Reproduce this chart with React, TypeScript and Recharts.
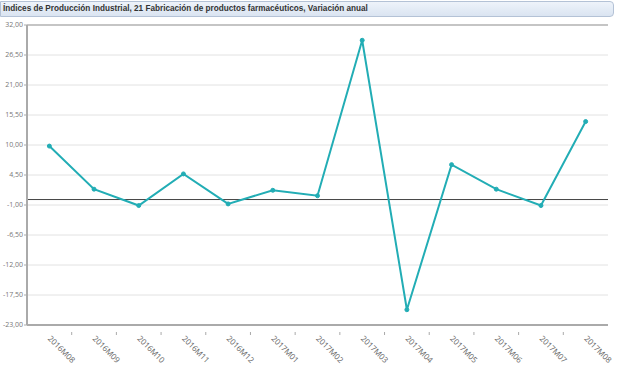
import React from "react";
import {
  LineChart,
  Line,
  XAxis,
  YAxis,
  CartesianGrid,
  ReferenceLine,
} from "recharts";

const TITLE =
  "Índices de Producción Industrial, 21 Fabricación de productos farmacéuticos, Variación anual";

const months = [
  "2016M08",
  "2016M09",
  "2016M10",
  "2016M11",
  "2016M12",
  "2017M01",
  "2017M02",
  "2017M03",
  "2017M04",
  "2017M05",
  "2017M06",
  "2017M07",
  "2017M08",
];

const variation = [9.8, 1.9, -1.1, 4.7, -0.8, 1.7, 0.7, 29.2, -20.2, 6.4, 1.9, -1.1, 14.3];

const yTicks = [-23, -17.5, -12, -6.5, -1, 4.5, 10, 15.5, 21, 26.5, 32];

const data = months.map((m, i) => ({ month: m, value: variation[i] }));

const WIDTH = 620;
const HEIGHT = 368;
const LEFT = 27;
const RIGHT = 12;
const PLOT_W = WIDTH - LEFT - RIGHT;
const HALF_STEP = PLOT_W / months.length / 2;

const LINE_COLOR = "#22adb5";

// x labels rotated 45°, tick marks sit between categories
const MonthTick = (props: any) => {
  const { x, y, payload, index } = props;
  return (
    <g>
      {index < months.length - 1 && (
        <line x1={x + HALF_STEP} y1={y - 1} x2={x + HALF_STEP} y2={y + 2} stroke="#aaa" />
      )}
      <g transform={`translate(${x - 2},${y + 6})`}>
        <text
          transform="rotate(45)"
          textAnchor="start"
          fontSize={8}
          fill="#666"
          fontFamily="'Open Sans', sans-serif"
        >
          {payload.value}
        </text>
      </g>
    </g>
  );
};

const fmt = (v: number) => v.toFixed(2).replace(".", ",");

export default function App() {
  return (
    <div
      style={{
        position: "absolute",
        left: 0,
        top: 0,
        width: WIDTH,
        height: HEIGHT,
        background: "#fff",
        overflow: "hidden",
      }}
    >
      <div
        style={{
          position: "absolute",
          left: 0,
          top: 1,
          width: 610,
          height: 14,
          border: "1px solid #b4c2d6",
          borderRadius: "0 4px 4px 0",
          background: "linear-gradient(#eef3fa, #dae4f1)",
          fontFamily: "'Liberation Sans', Arial, sans-serif",
          fontSize: 8.2,
          fontWeight: "bold",
          color: "#333",
          lineHeight: "14px",
          paddingLeft: 2,
          boxSizing: "content-box",
          whiteSpace: "nowrap",
        }}
      >
        {TITLE}
      </div>
      <div style={{ position: "absolute", left: 0, top: 0 }}>
        <LineChart
          width={WIDTH}
          height={HEIGHT}
          data={data}
          margin={{ top: 25, right: RIGHT, left: 0, bottom: 0 }}
        >
          <CartesianGrid vertical={false} stroke="#e2e2e2" />
          <XAxis
            dataKey="month"
            height={43}
            interval={0}
            padding={{ left: HALF_STEP, right: HALF_STEP }}
            axisLine={{ stroke: "#aaa", strokeWidth: 2 }}
            tickLine={false}
            tick={<MonthTick />}
          />
          <YAxis
            width={LEFT}
            domain={[-23, 32]}
            ticks={yTicks}
            interval={0}
            tickFormatter={fmt}
            axisLine={{ stroke: "#aaa", strokeWidth: 2 }}
            tickLine={{ stroke: "#aaa" }}
            tickSize={3}
            tickMargin={1}
            tick={{ fontSize: 7, fill: "#777", fontFamily: "'Open Sans', sans-serif" }}
          />
          <YAxis
            yAxisId="frame"
            orientation="right"
            width={0}
            domain={[-23, 32]}
            tick={false}
            tickLine={false}
            axisLine={{ stroke: "#999" }}
          />
          <ReferenceLine y={32} stroke="#999" />
          <ReferenceLine y={0} stroke="#444" />
          <Line
            type="linear"
            dataKey="value"
            stroke={LINE_COLOR}
            strokeWidth={2}
            dot={{ r: 2, fill: LINE_COLOR, stroke: LINE_COLOR, strokeWidth: 1 }}
            isAnimationActive={false}
          />
        </LineChart>
      </div>
    </div>
  );
}
